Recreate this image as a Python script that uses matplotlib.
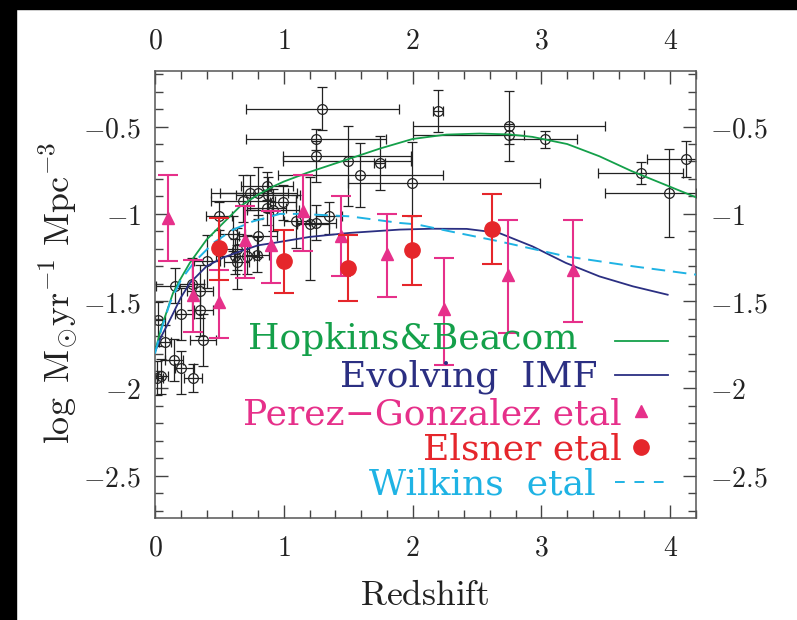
import matplotlib
matplotlib.use('Agg')
import matplotlib.pyplot as plt
from matplotlib.ticker import MultipleLocator, FuncFormatter
from matplotlib.patches import Rectangle

plt.rcParams['mathtext.fontset'] = 'cm'

# ---------------- data ----------------
# Hopkins compilation (open circles): z, logSFRD, x-errors (left,right), y-errors (down,up)
hb_z   = [1.297, 2.196, 1.248, 1.248, 1.499, 1.594, 1.744, 1.997, 1.098, 1.20, 1.253, 1.349,
          2.747, 2.747, 3.03, 3.773, 3.99, 4.12,
          0.496, 0.602, 0.685, 0.736, 0.801, 0.871, 0.879, 0.866, 0.917, 0.995,
          0.633, 0.620, 0.633, 0.711, 0.788, 0.801, 0.401, 0.155, 0.349, 0.349,
          0.202, 0.37, 0.026, 0.078, 0.15, 0.202, 0.297, 0.013, 0.05, 0.284]
hb_y   = [-0.397, -0.408, -0.574, -0.670, -0.699, -0.779, -0.708, -0.823, -1.043, -1.058, -1.052, -1.014,
          -0.498, -0.546, -0.571, -0.765, -0.880, -0.683,
          -1.014, -1.113, -0.928, -0.880, -0.880, -0.842, -0.890, -0.966, -0.976, -0.934,
          -1.201, -1.243, -1.278, -1.243, -1.234, -1.125, -1.272, -1.411, -1.444, -1.549,
          -1.572, -1.721, -1.606, -1.736, -1.835, -1.883, -1.940, -1.940, -1.930, -1.400]
hb_zlo = [0.594, 0.04, 0.545, 0.253, 0.504, 0.638, 0.04, 0.50, 0.10, 0.10, 0.15, 0.10,
          0.747, 0.747, 0.28, 0.333, 0.50, 0.30,
          0.10, 0.10, 0.25, 0.30, 0.30, 0.20, 0.25, 0.15, 0.20, 0.10,
          0.10, 0.15, 0.10, 0.10, 0.10, 0.15, 0.10, 0.15, 0.10, 0.05,
          0.05, 0.10, 0.026, 0.05, 0.07, 0.05, 0.07, 0.013, 0.03, 0.10]
hb_zhi = [0.597, 0.04, 0.548, 0.742, 0.491, 0.641, 0.04, 0.993, 0.10, 0.15, 0.15, 0.10,
          0.743, 0.12, 0.25, 0.327, 0.21, 0.10,
          0.10, 0.10, 0.25, 0.30, 0.30, 0.20, 0.25, 0.15, 0.20, 0.10,
          0.10, 0.15, 0.10, 0.10, 0.10, 0.15, 0.10, 0.15, 0.10, 0.10,
          0.10, 0.10, 0.05, 0.05, 0.07, 0.10, 0.07, 0.05, 0.05, 0.10]
hb_ylo = [0.124, 0.125, 0.06, 0.149, 0.258, 0.183, 0.153, 0.191, 0.15, 0.32, 0.10, 0.10,
          0.10, 0.153, 0.05, 0.062, 0.254, 0.105,
          0.08, 0.10, 0.12, 0.10, 0.15, 0.08, 0.10, 0.10, 0.12, 0.10,
          0.12, 0.10, 0.15, 0.10, 0.10, 0.12, 0.15, 0.10, 0.15, 0.15,
          0.15, 0.15, 0.15, 0.10, 0.12, 0.15, 0.08, 0.10, 0.10, 0.15]
hb_yhi = [0.124, 0.120, 0.06, 0.09, 0.205, 0.186, 0.153, 0.233, 0.15, 0.27, 0.10, 0.08,
          0.204, 0.06, 0.048, 0.060, 0.252, 0.103,
          0.08, 0.10, 0.15, 0.10, 0.15, 0.08, 0.10, 0.10, 0.12, 0.10,
          0.12, 0.10, 0.10, 0.12, 0.10, 0.12, 0.15, 0.10, 0.15, 0.15,
          0.15, 0.15, 0.10, 0.10, 0.12, 0.10, 0.08, 0.10, 0.10, 0.15]

# Perez-Gonzalez et al. (triangles)
pg_z  = [0.103, 0.297, 0.496, 0.698, 0.899, 1.15, 1.447, 1.80, 2.246, 2.739, 3.243]
pg_y  = [-1.023, -1.463, -1.507, -1.148, -1.176, -0.985, -1.129, -1.23, -1.542, -1.348, -1.32]
pg_up = [-0.779, -1.262, -1.320, -0.957, -0.985, -0.78, -0.899, -1.0, -1.253, -1.037, -1.037]
pg_lo = [-1.272, -1.676, -1.711, -1.367, -1.396, -1.215, -1.358, -1.476, -1.863, -1.682, -1.622]

# Elsner et al. (filled circles)
el_z  = [0.496, 1.003, 1.499, 1.997, 2.62]
el_y  = [-1.195, -1.272, -1.31, -1.209, -1.086]
el_up = [-1.023, -1.094, -1.119, -1.014, -0.885]
el_lo = [-1.377, -1.453, -1.501, -1.405, -1.287]

# Hopkins & Beacom fit
hbf_z = [0, 0.05, 0.1, 0.14, 0.2, 0.27, 0.4, 0.53, 0.66, 0.8, 0.92, 1.0, 1.18, 1.49,
         1.75, 2.0, 2.26, 2.52, 2.75, 2.93, 3.2, 3.45, 3.7, 3.95, 4.2]
hbf_y = [-1.788, -1.65, -1.54, -1.453, -1.37, -1.281, -1.148, -1.052, -0.957, -0.89, -0.842,
         -0.815, -0.765, -0.689, -0.625, -0.571, -0.546, -0.54, -0.545, -0.559, -0.60,
         -0.67, -0.755, -0.83, -0.905]

# Evolving IMF
imf_z = [0, 0.05, 0.1, 0.142, 0.2, 0.271, 0.4, 0.53, 0.66, 0.8, 0.917, 1.2, 1.51, 1.9,
         2.15, 2.42, 2.67, 2.93, 3.19, 3.45, 3.71, 3.98]
imf_y = [-1.79, -1.70, -1.63, -1.568, -1.48, -1.396, -1.30, -1.25, -1.215, -1.18, -1.167,
         -1.132, -1.109, -1.09, -1.085, -1.086, -1.109, -1.186, -1.281, -1.358, -1.415, -1.463]

# Wilkins et al.
wk_z = [0, 0.05, 0.116, 0.2, 0.3, 0.452, 0.607, 0.76, 0.97, 1.12, 1.51, 1.9, 2.03, 2.29,
        2.67, 3.19, 3.71, 4.2]
wk_y = [-1.80, -1.66, -1.51, -1.38, -1.28, -1.167, -1.09, -1.043, -1.0, -1.0, -1.014,
        -1.052, -1.06, -1.10, -1.157, -1.243, -1.30, -1.348]

GREEN = '#14a04a'
NAVY = '#2b2f82'
PINK = '#e6308a'
RED = '#e5262b'
CYAN = '#1fb3e4'
DARK = '#222222'

W, H = 797, 620
fig = plt.figure(figsize=(W / 100, H / 100), dpi=100)
L, R, T, B = 155, 696, 70.7, 517.7
ax = fig.add_axes([L / W, 1 - B / H, (R - L) / W, (B - T) / H])

# black border strips (top and left)
fig.patches.append(Rectangle((0, 1 - 9 / H), 1, 9 / H, transform=fig.transFigure,
                             color='black', zorder=-5))
fig.patches.append(Rectangle((0, 0), 16 / W, 1, transform=fig.transFigure,
                             color='black', zorder=-5))

# compilation points
ax.errorbar(hb_z, hb_y, xerr=[hb_zlo, hb_zhi], yerr=[hb_ylo, hb_yhi], fmt='o',
            mfc='none', mec=DARK, ms=7, mew=0.9, ecolor=DARK, elinewidth=0.9,
            capsize=3.5, capthick=0.9, zorder=2)

# curves
ax.plot(hbf_z, hbf_y, color=GREEN, lw=1.3, zorder=3)
ax.plot(imf_z, imf_y, color=NAVY, lw=1.3, zorder=3)
ax.plot(wk_z, wk_y, color=CYAN, lw=1.4, dashes=(7, 4), zorder=3)

# Perez-Gonzalez
pg_err = [[y - lo for y, lo in zip(pg_y, pg_lo)], [up - y for y, up in zip(pg_y, pg_up)]]
ax.errorbar(pg_z, pg_y, yerr=pg_err, fmt='^', color=PINK, ms=9, elinewidth=1.5,
            capsize=7, capthick=1.5, zorder=4)

# Elsner
el_err = [[y - lo for y, lo in zip(el_y, el_lo)], [up - y for y, up in zip(el_y, el_up)]]
ax.errorbar(el_z, el_y, yerr=el_err, fmt='o', color=RED, ms=11, elinewidth=1.5,
            capsize=7, capthick=1.5, zorder=5)

ax.set_xlim(0, 4.2)
ax.set_ylim(-2.74, -0.18)

ax.xaxis.set_major_locator(MultipleLocator(1))
ax.xaxis.set_minor_locator(MultipleLocator(0.2))
ax.yaxis.set_major_locator(MultipleLocator(0.5))
ax.yaxis.set_minor_locator(MultipleLocator(0.1))


def fmt(v, pos):
    s = f'{v:g}'
    return f'${s}$'


ax.xaxis.set_major_formatter(FuncFormatter(fmt))
ax.yaxis.set_major_formatter(FuncFormatter(fmt))
ax.tick_params(which='both', direction='in', top=True, right=True, labeltop=True,
               labelright=True, color='#444444', width=1.0, labelsize=20,
               labelcolor='#222222')
ax.tick_params(which='major', length=9.5)
ax.tick_params(which='minor', length=5.5)
ax.tick_params(axis='x', pad=11.5)
ax.tick_params(axis='y', pad=10)
for s in ax.spines.values():
    s.set_color('#555555')
    s.set_linewidth(1.1)

# axis labels
fig.text(425 / W, 1 - 605 / H, r'$\mathrm{Redshift}$', ha='center', va='baseline',
         fontsize=25.5, color='#222222')
fig.text(58 / W, 1 - 293 / H, r'$\log\ \mathrm{M}_{\odot}\mathrm{yr}^{-1}\ \mathrm{Mpc}^{-3}$',
         ha='center', va='center', rotation=90, fontsize=26, color='#222222')

# legend (manual)
leg_font = dict(family='DejaVu Serif', fontsize=26, ha='right', va='baseline')
entries = [
    ('Hopkins&Beacom', GREEN, 578, 349),
    ('Evolving  IMF', NAVY, 597, 386),
    ('Perez\u2212Gonzalez etal', PINK, 622, 424.5),
    ('Elsner etal', RED, 622, 459.6),
    ('Wilkins  etal', CYAN, 596, 494.7),
]
for txt, col, px, py in entries:
    fig.text(px / W, 1 - py / H, txt, color=col, **leg_font)


def fx(px):
    return (px - L) / (R - L)


def fy(py):
    return (B - py) / (B - T)


ax.plot([fx(615), fx(668)], [fy(341.4), fy(341.4)], color=GREEN, lw=1.3,
        transform=ax.transAxes, clip_on=False)
ax.plot([fx(615), fx(668)], [fy(375.4), fy(375.4)], color=NAVY, lw=1.3,
        transform=ax.transAxes, clip_on=False)
ax.plot([fx(641)], [fy(410.5)], marker='^', color=PINK, ms=9,
        transform=ax.transAxes, clip_on=False)
ax.plot([fx(641)], [fy(446.6)], marker='o', color=RED, ms=11,
        transform=ax.transAxes, clip_on=False)
ax.plot([fx(615), fx(668)], [fy(481.7), fy(481.7)], color=CYAN, lw=1.4, dashes=(5, 5),
        transform=ax.transAxes, clip_on=False)

fig.savefig('out.png', dpi=100)
